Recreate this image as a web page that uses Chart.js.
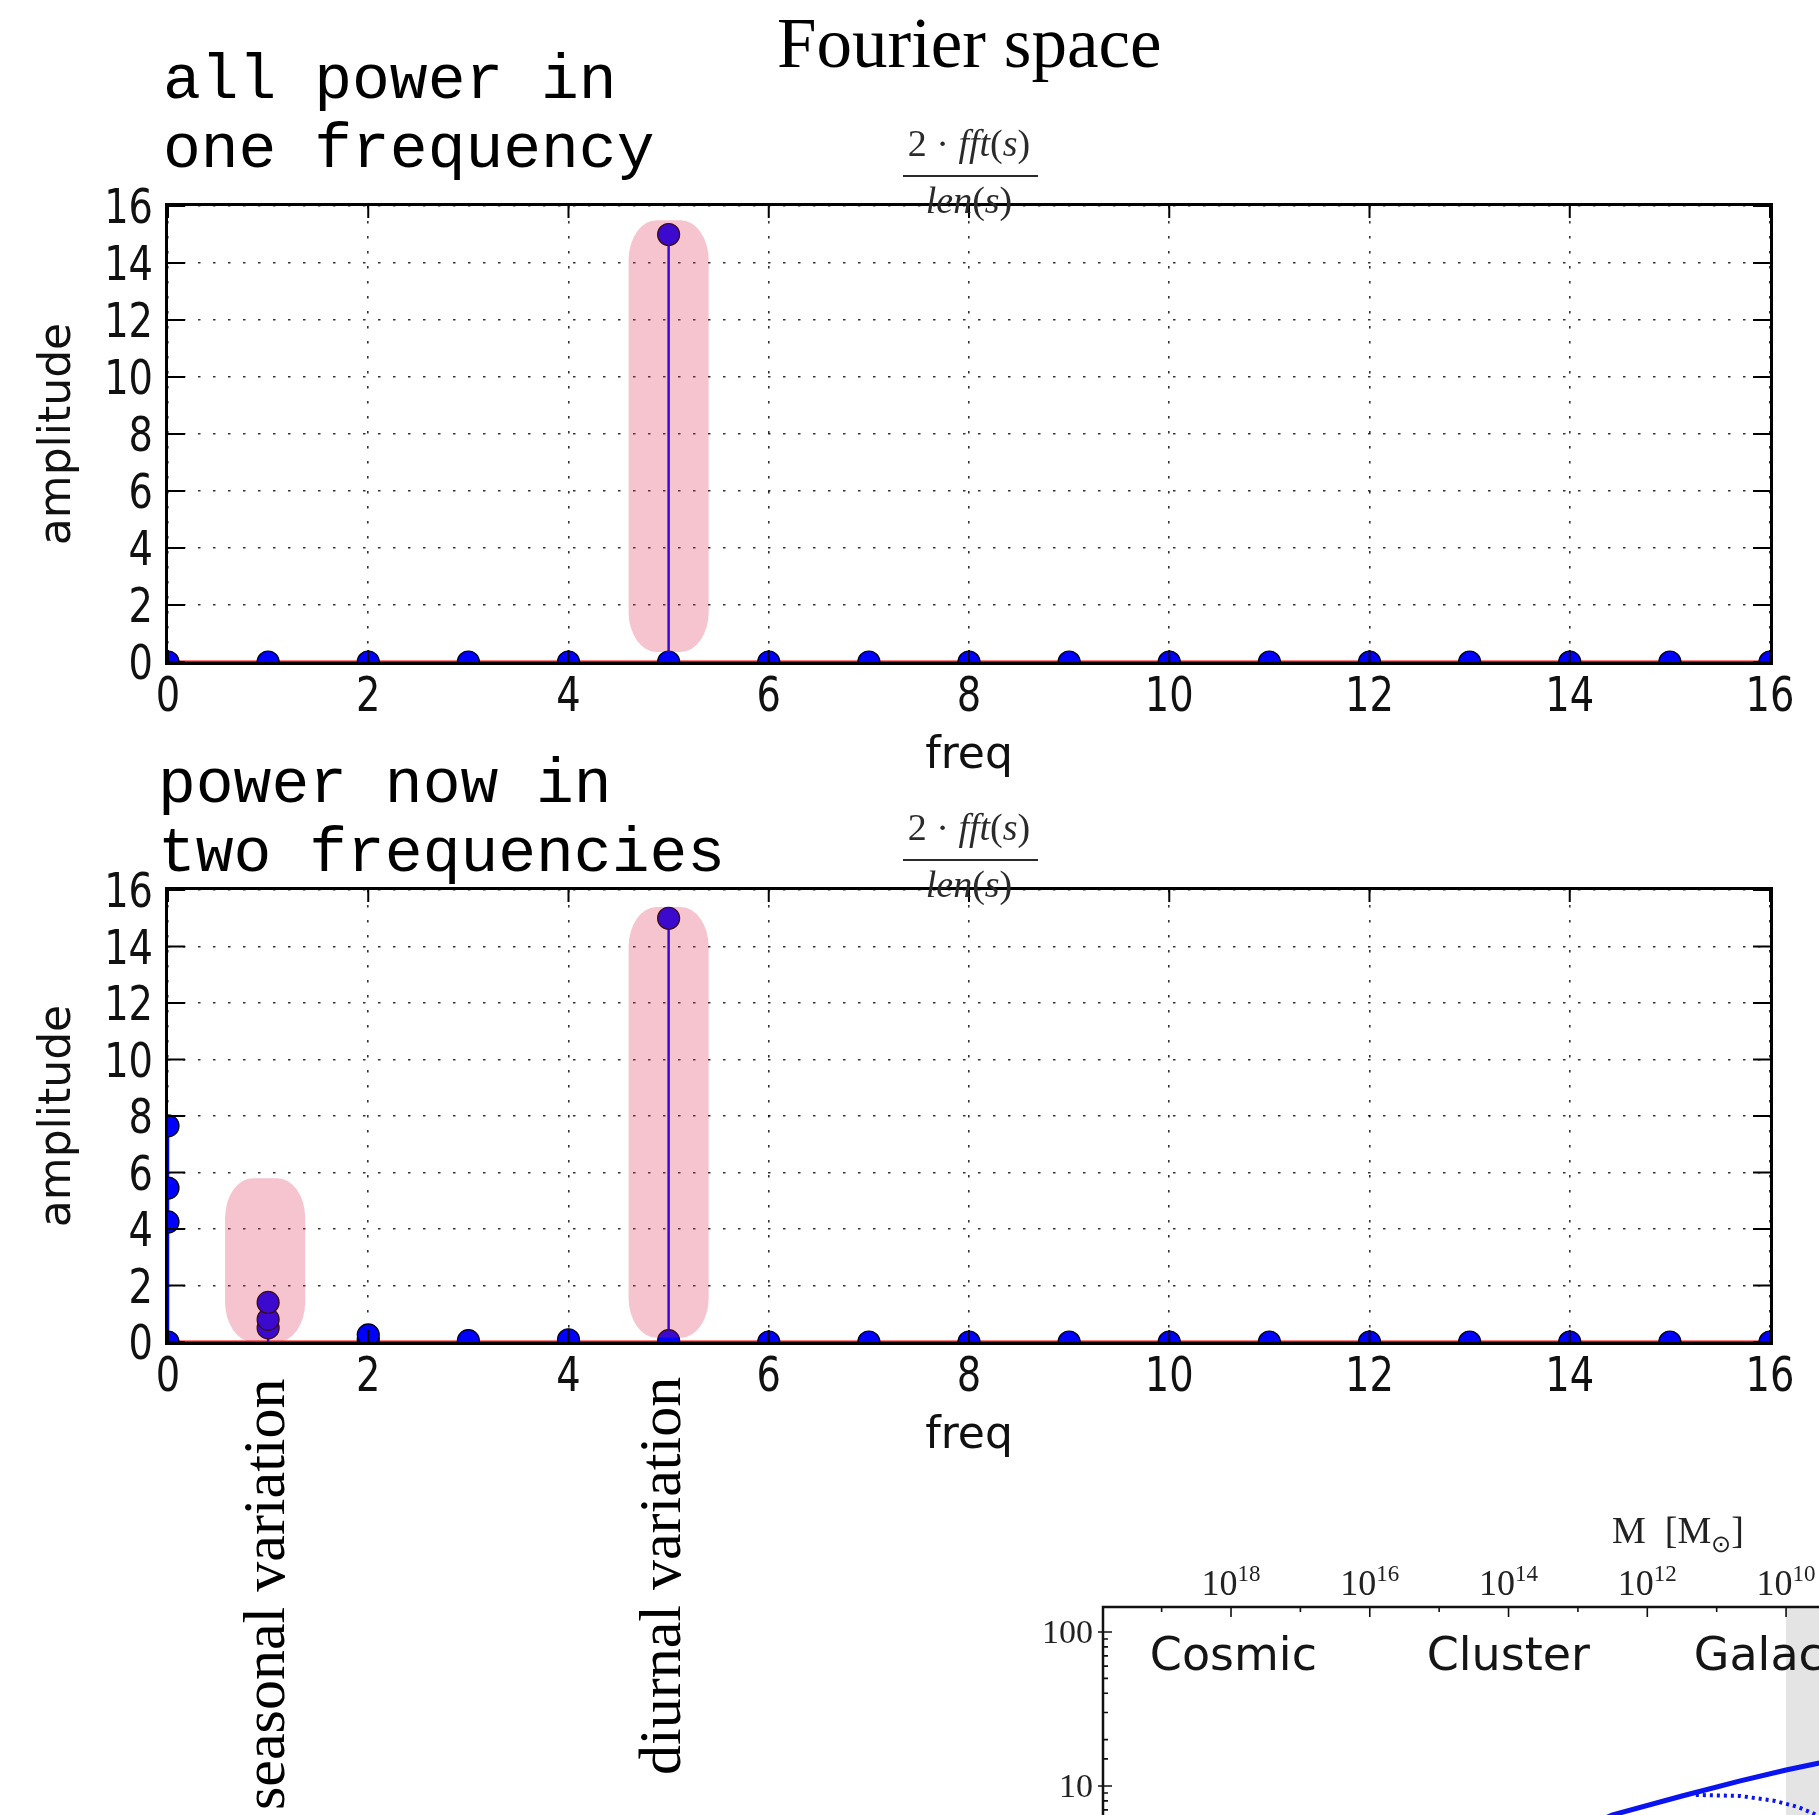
<!DOCTYPE html>
<html lang="en">
<head>
    <meta charset="UTF-8">
    <meta name="viewport" content="width=device-width, initial-scale=1.0">
    <title>Fourier space</title>
    <script src="https://cdn.jsdelivr.net/npm/chart.js"></script>
    <style>
        html, body { margin: 0; padding: 0; overflow: hidden; background: #fff; }
        body { position: relative; width: 1819px; height: 1815px; }
        canvas { position: absolute; }
        .note { position: absolute; margin: 0; white-space: pre; color: #000; }
        .mono { font-family: "Courier New", "Liberation Mono", monospace; font-size: 63px; line-height: 69px; }
        .serif { font-family: "Liberation Serif", "Times New Roman", serif; line-height: 1; }
        .vert { transform-origin: 0 0; transform: rotate(-90deg); }
        .frac { position: absolute; width: 200px; text-align: center; font-family: "Liberation Serif", serif;
                font-style: italic; font-size: 38px; line-height: 1; color: #2a2a2a; white-space: pre; }
        .frac .up { font-style: normal; }
        .bar { position: absolute; height: 2px; background: #2a2a2a; }
    </style>
</head>
<body>
    <canvas id="tone" width="1819" height="640" style="left:0; top:150px;"></canvas>
    <canvas id="mix" width="1819" height="636" style="left:0; top:834px;"></canvas>
    <canvas id="scales" width="1300" height="560" style="left:1000px; top:1500px;"></canvas>

    <div class="note serif" style="left:777px; top:8px; font-size:71px;">Fourier space</div>

    <div class="note mono" style="left:163px; top:47px;">all power in
one frequency</div>
    <div class="frac" style="left:869px; top:124px;"><span class="up">2 · </span>fft<span class="up">(</span>s<span class="up">)</span></div>
    <div class="bar" style="left:903px; top:175px; width:135px;"></div>
    <div class="frac" style="left:869px; top:181px;">len<span class="up">(</span>s<span class="up">)</span></div>

    <div class="note mono" style="left:158px; top:751px;">power now in
two frequencies</div>
    <div class="frac" style="left:869px; top:808px;"><span class="up">2 · </span>fft<span class="up">(</span>s<span class="up">)</span></div>
    <div class="bar" style="left:903px; top:859px; width:135px;"></div>
    <div class="frac" style="left:869px; top:865px;">len<span class="up">(</span>s<span class="up">)</span></div>

    <div class="note serif vert" style="left:234px; top:1810px; font-size:60px;">seasonal variation</div>
    <div class="note serif vert" style="left:630px; top:1775px; font-size:60px;">diurnal variation</div>

    <script>
        // tick values shared by both spectra
        const freqTicks = [0, 2, 4, 6, 8, 10, 12, 14, 16];
        const ampTicks = [0, 2, 4, 6, 8, 10, 12, 14, 16];

        // pure 5-cycle signal: one bin carries everything
        const toneFreq = [0, 1, 2, 3, 4, 5, 5, 6, 7, 8, 9, 10, 11, 12, 13, 14, 15, 16];
        const toneAmp  = [0, 0, 0, 0, 0, 0, 15, 0, 0, 0, 0, 0, 0, 0, 0, 0, 0, 0];

        // same signal with a slow yearly drift added
        const mixFreq = [0, 0, 0, 0, 1, 1, 1, 2, 2, 3, 4, 5, 5, 6, 7, 8, 9, 10, 11, 12, 13, 14, 15, 16];
        const mixAmp  = [0, 4.25, 5.45, 7.65, 0.5, 0.8, 1.4, 0.1, 0.25, 0.05, 0.08, 0.05, 15, 0, 0, 0, 0, 0, 0, 0, 0, 0, 0, 0];

        // highlighted regions: [freq from, freq to, amp from, amp to]
        const toneBands = [[4.6, 5.4, 0.35, 15.5]];
        const mixBands = [[0.57, 1.37, 0.0, 5.8], [4.6, 5.4, 0.15, 15.4]];

        // mass scale panel (log10 of mass on x, ratio on y)
        const massTicks = [4, 5, 6, 7, 8, 9, 10, 11, 12, 13, 14, 15, 16, 17, 18, 19];
        const massSolid  = [12.97, 12.51, 11.50, 10.66, 10.0, 9.52, 9.22];
        const ratioSolid = [5.18, 6.48, 8.61, 10.8, 12.7, 14.1, 15.2];
        const massDotted  = [11.30, 10.66, 10.16, 9.83, 9.52, 9.22];
        const ratioDotted = [8.75, 8.61, 8.0, 7.31, 6.38, 5.33];
        const regionNames = ['Cosmic', 'Cluster', 'Galactic'];
        const regionMass  = [19.17, 15.18, 11.33];
        const shadedFrom = 10;

        const SANS = '"DejaVu Sans", sans-serif';
        const SERIF = '"Liberation Serif", "Times New Roman", serif';

        function stems(freq, amp) {
            const pts = [];
            freq.forEach((f, i) => pts.push({ x: f, y: 0 }, { x: f, y: amp[i] }, { x: f, y: null }));
            return pts;
        }

        function bandPlugin(bands) {
            return {
                id: 'bands',
                afterDatasetsDraw(chart) {
                    const { ctx, scales: { x, y } } = chart;
                    ctx.save();
                    ctx.fillStyle = 'rgba(217, 37, 75, 0.27)';
                    bands.forEach(([f0, f1, a0, a1]) => {
                        const l = x.getPixelForValue(f0), r = x.getPixelForValue(f1);
                        const t = y.getPixelForValue(a1), b = y.getPixelForValue(a0);
                        ctx.beginPath();
                        ctx.roundRect(l, t, r - l, b - t, [{ x: 28, y: 40 }]);
                        ctx.fill();
                    });
                    ctx.restore();
                }
            };
        }

        // narrow-set tick label
        function tickText(ctx, text, x, y, align) {
            ctx.save();
            ctx.translate(x, y);
            ctx.scale(0.8, 1);
            ctx.textAlign = align;
            ctx.fillText(text, 0, 0);
            ctx.restore();
        }

        // box around the axes, inward ticks on every side, tick labels
        const framePlugin = {
            id: 'frame',
            afterDraw(chart) {
                const { ctx, chartArea: a, scales: { x, y } } = chart;
                ctx.save();
                ctx.strokeStyle = '#000';
                ctx.lineWidth = 2;
                ctx.beginPath();
                x.ticks.forEach(t => {
                    const px = x.getPixelForValue(t.value);
                    ctx.moveTo(px, a.top); ctx.lineTo(px, a.top + 12);
                    ctx.moveTo(px, a.bottom); ctx.lineTo(px, a.bottom - 12);
                });
                y.ticks.forEach(t => {
                    const py = y.getPixelForValue(t.value);
                    ctx.moveTo(a.left, py); ctx.lineTo(a.left + 17, py);
                    ctx.moveTo(a.right, py); ctx.lineTo(a.right - 17, py);
                });
                ctx.stroke();
                ctx.lineWidth = 3;
                ctx.strokeRect(a.left - 1.5, a.top - 1.5, a.width + 3, a.height + 3);

                ctx.fillStyle = '#111';
                ctx.font = '48px ' + SANS;
                ctx.textBaseline = 'alphabetic';
                x.ticks.forEach(t => tickText(ctx, String(t.value), x.getPixelForValue(t.value), a.bottom + 49, 'center'));
                y.ticks.forEach(t => tickText(ctx, String(t.value), a.left - 15, y.getPixelForValue(t.value) + 17, 'right'));
                ctx.restore();
            }
        };

        function spectrum(id, freq, amp, bands) {
            return new Chart(document.getElementById(id), {
                type: 'scatter',
                data: {
                    datasets: [
                        {
                            data: freq.map((f, i) => ({ x: f, y: amp[i] })),
                            pointRadius: 11,
                            pointBackgroundColor: '#0000ff',
                            pointBorderColor: '#000',
                            pointBorderWidth: 1.2,
                            clip: 0
                        },
                        {
                            data: stems(freq, amp),
                            showLine: true,
                            spanGaps: false,
                            borderColor: '#0000ff',
                            borderWidth: 2.5,
                            pointRadius: 0,
                            clip: 0
                        },
                        {
                            data: [{ x: 0, y: 0 }, { x: 16, y: 0 }],
                            showLine: true,
                            borderColor: '#ff0000',
                            borderWidth: 3,
                            pointRadius: 0,
                            clip: 0
                        }
                    ]
                },
                options: {
                    responsive: false,
                    animation: false,
                    devicePixelRatio: 1,
                    layout: { padding: { top: 56, right: 49, bottom: 0, left: 0 } },
                    plugins: { legend: { display: false }, tooltip: { enabled: false } },
                    scales: {
                        x: {
                            type: 'linear', min: 0, max: 16,
                            afterBuildTicks: s => { s.ticks = freqTicks.map(v => ({ value: v })); },
                            afterFit: s => { s.height = 128; },
                            grid: { color: 'rgba(0,0,0,0.8)', lineWidth: 1.6, drawTicks: false },
                            border: { display: false, dash: [2.5, 12.5] },
                            ticks: { display: false },
                            title: { display: true, text: 'freq', color: '#111', font: { family: SANS, size: 44 }, padding: { top: 0, bottom: 7 } }
                        },
                        y: {
                            type: 'linear', min: 0, max: 16,
                            afterBuildTicks: s => { s.ticks = ampTicks.map(v => ({ value: v })); },
                            afterFit: s => { s.width = 168; },
                            grid: { color: 'rgba(0,0,0,0.8)', lineWidth: 1.6, drawTicks: false },
                            border: { display: false, dash: [2.5, 12.5] },
                            ticks: { display: false },
                            title: { display: true, text: 'amplitude', color: '#111', font: { family: SANS, size: 44 }, padding: { top: 32, bottom: 0 } }
                        }
                    }
                },
                plugins: [bandPlugin(bands), framePlugin]
            });
        }

        spectrum('tone', toneFreq, toneAmp, toneBands);
        spectrum('mix', mixFreq, mixAmp, mixBands);

        // mass scale panel
        const isDecade = v => { const l = Math.log10(v); return Math.abs(l - Math.round(l)) < 1e-6; };

        const massPlugin = {
            id: 'massDecor',
            beforeDatasetsDraw(chart) {
                const { ctx, chartArea: a, scales: { x } } = chart;
                const from = x.getPixelForValue(shadedFrom);
                ctx.save();
                ctx.fillStyle = '#e4e4e4';
                ctx.fillRect(from, a.top, a.right - from, a.height);
                ctx.restore();
            },
            afterDraw(chart) {
                const { ctx, chartArea: a, scales: { x, y } } = chart;
                ctx.save();
                ctx.fillStyle = '#151515';
                ctx.font = '46px ' + SANS;
                ctx.textAlign = 'left';
                ctx.textBaseline = 'alphabetic';
                regionNames.forEach((name, i) => ctx.fillText(name, x.getPixelForValue(regionMass[i]), y.getPixelForValue(56.6)));

                ctx.strokeStyle = '#111';
                ctx.lineWidth = 1.6;
                ctx.beginPath();
                massTicks.forEach(m => {
                    const px = x.getPixelForValue(m);
                    ctx.moveTo(px, a.top); ctx.lineTo(px, a.top + (m % 2 === 0 ? 10 : 5));
                });
                y.ticks.forEach(t => {
                    const py = y.getPixelForValue(t.value);
                    if (isDecade(t.value)) { ctx.moveTo(a.left - 5, py); ctx.lineTo(a.left + 9, py); }
                    else { ctx.moveTo(a.left, py); ctx.lineTo(a.left + 5, py); }
                });
                ctx.stroke();
                ctx.lineWidth = 2.5;
                ctx.strokeRect(a.left, a.top, a.width, a.height);

                // powers of ten along the top
                ctx.fillStyle = '#222';
                massTicks.filter(m => m % 2 === 0).forEach(m => {
                    const px = x.getPixelForValue(m);
                    ctx.font = '36px ' + SERIF;
                    const w1 = ctx.measureText('10').width;
                    ctx.font = '23px ' + SERIF;
                    const w2 = ctx.measureText(String(m)).width;
                    const left = px - (w1 + w2) / 2;
                    ctx.textAlign = 'left';
                    ctx.font = '36px ' + SERIF;
                    ctx.fillText('10', left, a.top - 12);
                    ctx.font = '23px ' + SERIF;
                    ctx.fillText(String(m), left + w1, a.top - 26);
                });

                // decade labels on the left
                ctx.font = '34px ' + SERIF;
                ctx.textAlign = 'right';
                y.ticks.filter(t => isDecade(t.value)).forEach(t => {
                    ctx.fillText(String(Math.round(t.value)), a.left - 10, y.getPixelForValue(t.value) + 11);
                });

                // axis label, solar symbol set low and small
                const cx = (a.left + a.right) / 2, base = a.top - 64;
                const parts = [['M  [M', 38, 0], ['⊙', 24, 9], [']', 38, 0]];
                let total = 0;
                parts.forEach(([s, size]) => { ctx.font = size + 'px ' + SERIF; total += ctx.measureText(s).width; });
                let cur = cx - total / 2;
                ctx.textAlign = 'left';
                parts.forEach(([s, size, drop]) => {
                    ctx.font = size + 'px ' + SERIF;
                    ctx.fillText(s, cur, base + drop);
                    cur += ctx.measureText(s).width;
                });
                ctx.restore();
            }
        };

        new Chart(document.getElementById('scales'), {
            type: 'scatter',
            data: {
                datasets: [
                    {
                        data: massSolid.map((m, i) => ({ x: m, y: ratioSolid[i] })),
                        showLine: true, borderColor: '#0a14f0', borderWidth: 5, pointRadius: 0
                    },
                    {
                        data: massDotted.map((m, i) => ({ x: m, y: ratioDotted[i] })),
                        showLine: true, borderColor: '#0a14f0', borderWidth: 4, borderDash: [3, 4], pointRadius: 0
                    }
                ]
            },
            options: {
                responsive: false,
                animation: false,
                devicePixelRatio: 1,
                layout: { padding: { top: 0, right: 47, bottom: 10, left: 0 } },
                plugins: { legend: { display: false }, tooltip: { enabled: false } },
                scales: {
                    x: {
                        type: 'linear', position: 'top', reverse: true, min: 3.27, max: 19.845,
                        afterBuildTicks: s => { s.ticks = massTicks.map(v => ({ value: v })); },
                        afterFit: s => { s.height = 107; },
                        grid: { display: false },
                        border: { display: false },
                        ticks: { display: false }
                    },
                    y: {
                        type: 'logarithmic', min: 0.193, max: 145.3,
                        afterFit: s => { s.width = 103; },
                        grid: { display: false },
                        border: { display: false },
                        ticks: { display: false, autoSkip: false }
                    }
                }
            },
            plugins: [massPlugin]
        });
    </script>
</body>
</html>
